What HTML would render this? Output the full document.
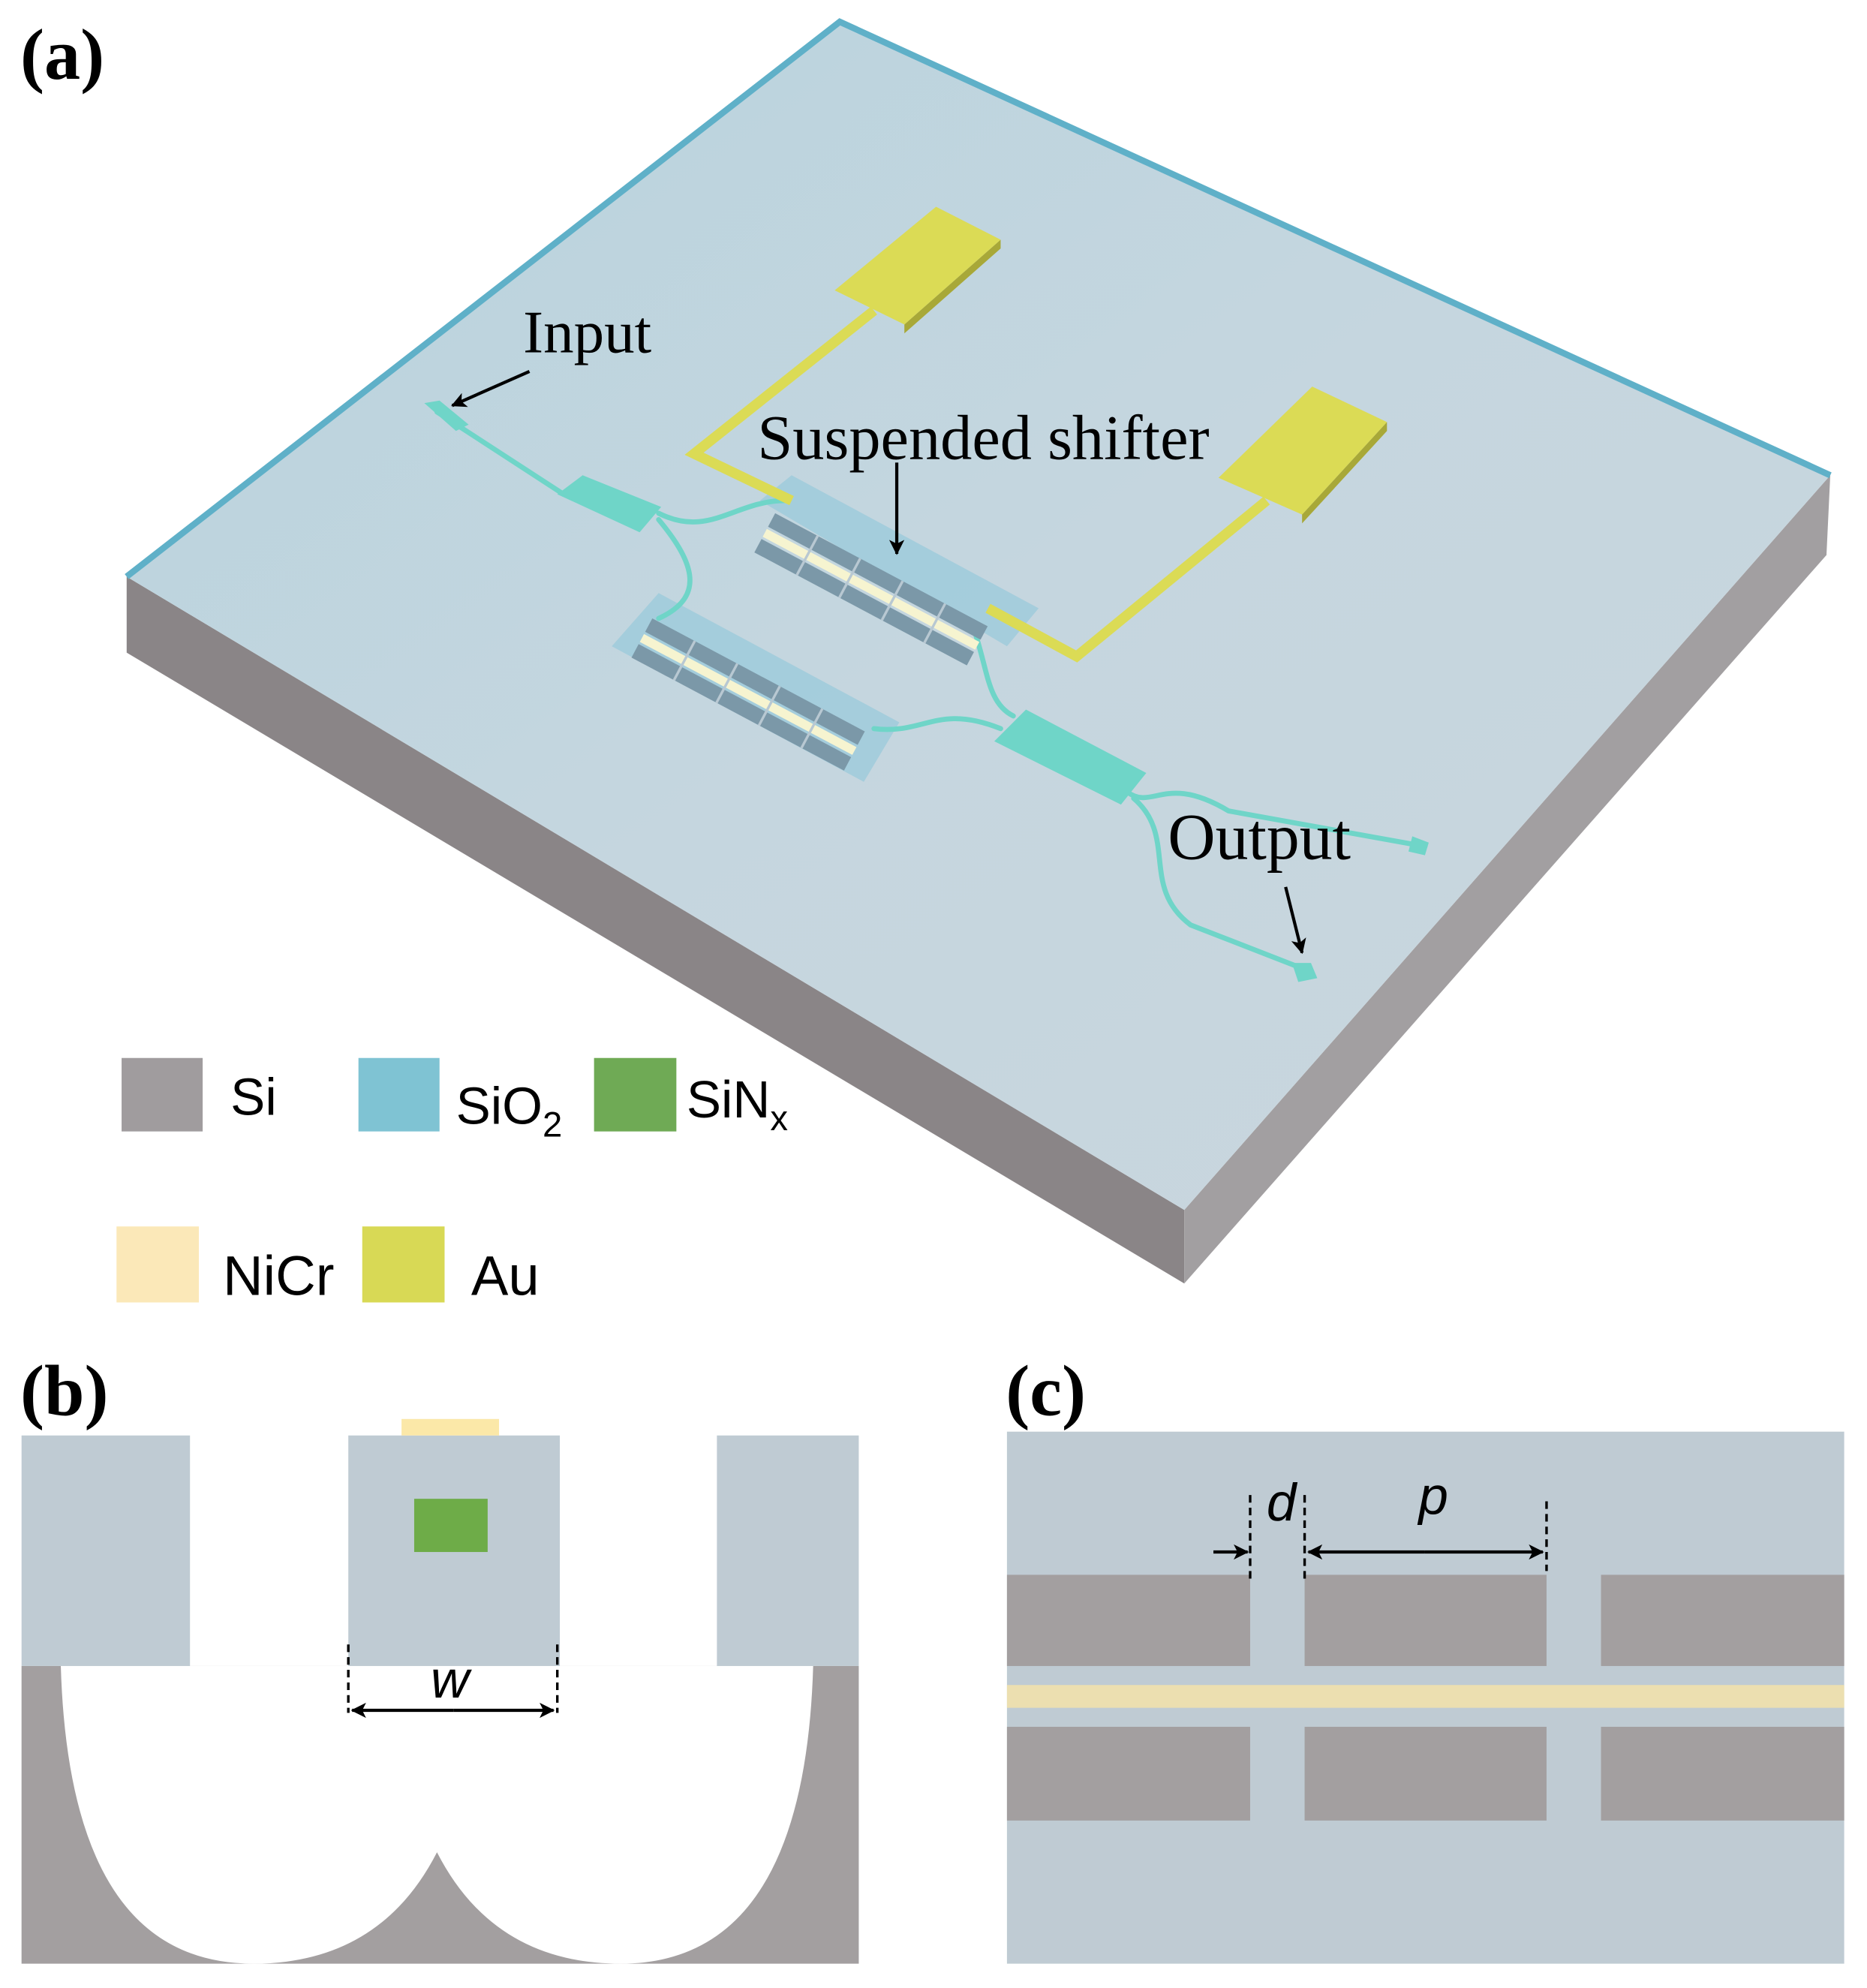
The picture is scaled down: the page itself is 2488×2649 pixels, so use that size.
<!DOCTYPE html>
<html><head><meta charset="utf-8"><style>html,body{margin:0;padding:0;background:#fff}svg{display:block}</style></head>
<body>
<svg width="2488" height="2649" viewBox="0 0 1474 1569" xmlns="http://www.w3.org/2000/svg" font-family="Liberation Serif, serif">
<defs>
<linearGradient id="top" x1="0" y1="0" x2="1" y2="1">
<stop offset="0" stop-color="#b7d3de"/><stop offset="0.5" stop-color="#c5d6df"/><stop offset="1" stop-color="#c9d5dd"/>
</linearGradient>
<marker id="ah" markerWidth="12" markerHeight="12" refX="11" refY="6" orient="auto" markerUnits="userSpaceOnUse"><path d="M0,0 L12,6 L0,12 L3,6 Z" fill="#000"/></marker>
</defs>
<polygon points="100,455 935,955 935,1013 100,515" fill="#8a8587"/>
<polygon points="935,955 1445,375 1442,438 935,1013" fill="#a29fa1"/>
<polygon points="663,17 1445,375 935,955 100,455" fill="url(#top)"/>
<polyline points="100,455 663,17 1445,375" fill="none" stroke="#5fb0c8" stroke-width="5"/>
<polygon points="600,395 625,375 820,480 795,510" fill="#9ccadb" opacity="0.8"/>
<polygon points="483,510 520,468 710,570 682,617" fill="#9ccadb" opacity="0.8"/>
<g fill="none" stroke="#6fd5c8" stroke-width="4" stroke-linecap="round">
<path d="M520,405 C560,425 580,395 620,395"/>
<path d="M520,410 C545,440 560,470 520,488"/>
<path d="M690,575 C730,580 740,555 790,575"/>
<path d="M770,500 C780,530 780,555 800,565"/>
<path d="M890,625 C910,640 920,610 970,640 L1125,668"/>
<path d="M895,630 C930,660 900,700 940,730 L1030,765"/>
<path d="M345,325 L445,390"/>
</g>
<polygon points="335,318 347,316 370,335 360,340" fill="#6fd5c8"/>
<polygon points="440,390 460,375 522,400 505,420" fill="#6fd5c8"/>
<polygon points="785,585 810,560 905,610 885,635" fill="#6fd5c8"/>
<polygon points="1020,760 1035,760 1040,772 1025,775" fill="#6fd5c8"/>
<polygon points="1115,660 1128,665 1125,675 1112,672" fill="#6fd5c8"/>
<g transform="translate(612,405) rotate(28)">
<rect x="0" y="0" width="190" height="12" fill="#7b98a8"/>
<rect x="0" y="14" width="190" height="7" fill="#f6f4d0"/>
<rect x="0" y="23" width="190" height="12" fill="#7b98a8"/>
<g stroke="#b8c8d2" stroke-width="2"><line x1="38" y1="0" x2="38" y2="35"/><line x1="76" y1="0" x2="76" y2="35"/><line x1="114" y1="0" x2="114" y2="35"/><line x1="152" y1="0" x2="152" y2="35"/></g>
</g>
<g transform="translate(515,488) rotate(28)">
<rect x="0" y="0" width="190" height="12" fill="#7b98a8"/>
<rect x="0" y="14" width="190" height="7" fill="#f6f4d0"/>
<rect x="0" y="23" width="190" height="12" fill="#7b98a8"/>
<g stroke="#b8c8d2" stroke-width="2"><line x1="38" y1="0" x2="38" y2="35"/><line x1="76" y1="0" x2="76" y2="35"/><line x1="114" y1="0" x2="114" y2="35"/><line x1="152" y1="0" x2="152" y2="35"/></g>
</g>
<polyline points="690,245 548,358 625,395" fill="none" stroke="#dbdb55" stroke-width="8"/>
<polyline points="780,480 850,518 1000,395" fill="none" stroke="#dbdb55" stroke-width="8"/>
<polygon points="714,256 790,189 790,196 714,263" fill="#a8a838"/>
<polygon points="659,229 739,163 790,189 714,256" fill="#dbdb55"/>
<polygon points="1028,406 1095,333 1095,340 1028,413" fill="#a8a838"/>
<polygon points="962,377 1036,305 1095,333 1028,406" fill="#dbdb55"/>
<text x="16" y="62" font-size="57" font-weight="bold">(a)</text>
<text x="413" y="278" font-size="48">Input</text>
<line x1="418" y1="293" x2="357" y2="320" stroke="#000" stroke-width="2.5" marker-end="url(#ah)"/>
<text x="598" y="362" font-size="50">Suspended shifter</text>
<line x1="708" y1="365" x2="708" y2="437" stroke="#000" stroke-width="2.5" marker-end="url(#ah)"/>
<text x="922" y="678" font-size="52">Output</text>
<line x1="1015" y1="700" x2="1028" y2="752" stroke="#000" stroke-width="2.5" marker-end="url(#ah)"/>
<g font-family="Liberation Sans, sans-serif" font-size="41">
<rect x="96" y="835" width="64" height="58" fill="#a09c9e"/><text x="182" y="880">Si</text>
<rect x="283" y="835" width="64" height="58" fill="#7fc3d3"/><text x="360" y="887">SiO<tspan font-size="28" dy="10">2</tspan></text>
<rect x="469" y="835" width="65" height="58" fill="#6faa55"/><text x="542" y="882">SiN<tspan font-size="28" dy="10">x</tspan></text>
<rect x="92" y="968" width="65" height="60" fill="#fbe8b8"/><text x="176" y="1022" font-size="44">NiCr</text>
<rect x="286" y="968" width="65" height="60" fill="#d8d955"/><text x="372" y="1022" font-size="44">Au</text>
</g>
<text x="16" y="1117" font-size="57" font-weight="bold">(b)</text>
<rect x="17" y="1315" width="661" height="235" fill="#a39fa0"/>
<path d="M48,1315 Q55,1550 200,1550 Q300,1550 345,1462 Q390,1550 490,1550 Q635,1550 642,1315 Z" fill="#fff"/>
<rect x="17" y="1133" width="133" height="182" fill="#bfcbd3"/>
<rect x="275" y="1133" width="167" height="182" fill="#bfcbd3"/>
<rect x="566" y="1133" width="112" height="182" fill="#bfcbd3"/>
<rect x="317" y="1120" width="77" height="13" fill="#fbe8a8"/>
<rect x="327" y="1183" width="58" height="42" fill="#6eac48"/>
<g stroke="#000" stroke-width="2" stroke-dasharray="6,4"><line x1="275" y1="1298" x2="275" y2="1352"/><line x1="440" y1="1298" x2="440" y2="1352"/></g>
<line x1="358" y1="1350" x2="278" y2="1350" stroke="#000" stroke-width="2.5" marker-end="url(#ah)"/>
<line x1="358" y1="1350" x2="437" y2="1350" stroke="#000" stroke-width="2.5" marker-end="url(#ah)"/>
<text x="340" y="1340" font-size="42" font-style="italic" font-family="Liberation Sans, sans-serif">w</text>
<text x="794" y="1117" font-size="57" font-weight="bold">(c)</text>
<rect x="795" y="1130" width="661" height="420" fill="#bfcbd3"/>
<g fill="#a39fa0">
<rect x="795" y="1243" width="192" height="72"/><rect x="1030" y="1243" width="191" height="72"/><rect x="1264" y="1243" width="192" height="72"/>
<rect x="795" y="1363" width="192" height="74"/><rect x="1030" y="1363" width="191" height="74"/><rect x="1264" y="1363" width="192" height="74"/>
</g>
<rect x="795" y="1330" width="661" height="18" fill="#ecdfb0"/>
<g stroke="#000" stroke-width="2" stroke-dasharray="6,4"><line x1="987" y1="1180" x2="987" y2="1250"/><line x1="1030" y1="1180" x2="1030" y2="1250"/><line x1="1221" y1="1185" x2="1221" y2="1240"/></g>
<line x1="958" y1="1225" x2="985" y2="1225" stroke="#000" stroke-width="2.5" marker-end="url(#ah)"/>
<line x1="1125" y1="1225" x2="1033" y2="1225" stroke="#000" stroke-width="2.5" marker-end="url(#ah)"/>
<line x1="1125" y1="1225" x2="1218" y2="1225" stroke="#000" stroke-width="2.5" marker-end="url(#ah)"/>
<text x="1000" y="1200" font-size="42" font-style="italic" font-family="Liberation Sans, sans-serif">d</text>
<text x="1120" y="1195" font-size="42" font-style="italic" font-family="Liberation Sans, sans-serif">p</text>
</svg>
</body></html>
